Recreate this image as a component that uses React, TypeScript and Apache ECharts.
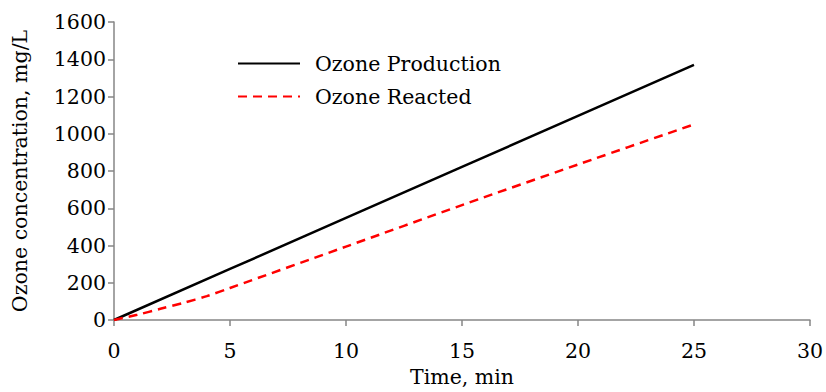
import React, { useEffect, useRef } from "react";
import * as echarts from "echarts";

const timeProduction = [0, 5, 10, 15, 20, 25];
const ozoneProduction = [0, 274, 548, 822, 1096, 1370];
const timeReacted = [0, 1, 2, 3, 4, 5, 10, 15, 20, 25];
const ozoneReacted = [0, 28, 60, 92, 128, 172, 394, 617, 835, 1050];
const xTicks = [0, 5, 10, 15, 20, 25, 30];
const yTicks = [0, 200, 400, 600, 800, 1000, 1200, 1400, 1600];

const FONT = "DejaVu Serif";
const FS = 20.5;

export default function App() {
  const ref = useRef<HTMLDivElement>(null);
  useEffect(() => {
    const chart = echarts.init(ref.current!, null, { renderer: "svg" });
    const axisColor = "#868686";
    chart.setOption({
      animation: false,
      backgroundColor: "#ffffff",
      grid: { left: 114, right: 11, top: 22, bottom: 66, containLabel: false },
      legend: {
        orient: "vertical",
        left: 232,
        top: 48,
        itemWidth: 62,
        itemHeight: 14,
        itemGap: 12,
        itemStyle: { opacity: 0 },
        textStyle: { fontFamily: FONT, fontSize: FS, color: "#000", padding: [0, 0, 0, 10] },
        data: ["Ozone Production", "Ozone Reacted"],
      },
      xAxis: {
        type: "value",
        min: xTicks[0],
        max: xTicks[xTicks.length - 1],
        interval: 5,
        name: "Time, min",
        nameLocation: "middle",
        nameGap: 46,
        nameTextStyle: { fontFamily: FONT, fontSize: FS, color: "#000" },
        axisLine: { show: true, lineStyle: { color: axisColor, width: 1.5 } },
        axisTick: { show: true, length: 6, lineStyle: { color: axisColor, width: 1.5 } },
        axisLabel: { fontFamily: FONT, fontSize: FS, color: "#000", margin: 20 },
        splitLine: { show: false },
      },
      yAxis: {
        type: "value",
        min: yTicks[0],
        max: yTicks[yTicks.length - 1],
        interval: 200,
        name: "Ozone concentration, mg/L",
        nameLocation: "middle",
        nameGap: 84,
        nameTextStyle: { fontFamily: FONT, fontSize: FS, color: "#000" },
        axisLine: { show: true, lineStyle: { color: axisColor, width: 1.5 } },
        axisTick: { show: true, length: 6, lineStyle: { color: axisColor, width: 1.5 } },
        axisLabel: {
          fontFamily: FONT,
          fontSize: FS,
          color: "#000",
          margin: 8,
          formatter: (v: number) => String(v),
        },
        splitLine: { show: false },
      },
      series: [
        {
          name: "Ozone Production",
          type: "line",
          symbol: "none",
          data: timeProduction.map((t, i) => [t, ozoneProduction[i]]),
          lineStyle: { color: "#000000", width: 2.5 },
          itemStyle: { color: "#000000" },
        },
        {
          name: "Ozone Reacted",
          type: "line",
          symbol: "none",
          smooth: 0.3,
          data: timeReacted.map((t, i) => [t, ozoneReacted[i]]),
          lineStyle: { color: "#ff0000", width: 2.5, type: [9, 6] },
          itemStyle: { color: "#ff0000" },
        },
      ],
    });
    return () => chart.dispose();
  }, []);
  return <div ref={ref} style={{ width: 826, height: 392, position: "absolute", left: 0, top: 0 }} />;
}
